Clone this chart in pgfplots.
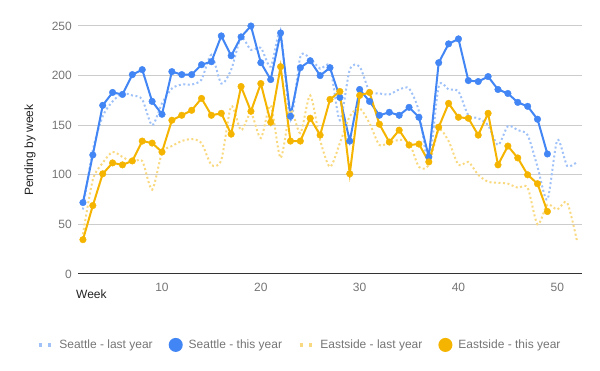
\documentclass[border=0pt]{standalone}
\usepackage{fontspec}
\setmainfont{Liberation Sans}
\usepackage{pgfplots}
\pgfplotsset{compat=1.18}
\definecolor{gblue}{HTML}{4285F4}
\definecolor{gorange}{HTML}{F4B400}
\definecolor{gblueL}{HTML}{A0C2F9}
\definecolor{gorangeL}{HTML}{F9D97F}
\definecolor{gridc}{HTML}{CCCCCC}
\definecolor{tickc}{HTML}{757575}
\definecolor{titlec}{HTML}{222222}
\begin{document}
\begin{tikzpicture}
\useasboundingbox (0,0) rectangle (600bp,371bp);
\begin{axis}[
  at={(78bp,97bp)}, anchor=south west,
  scale only axis, width=504bp, height=248bp,
  xmin=1.5, xmax=52.5, ymin=0, ymax=250,
  clip=false,
  axis line style={draw=none},
  xtick={10,20,30,40,50},
  ytick={0,50,100,150,200,250},
  major tick length=0pt,
  ymajorgrids, grid style={gridc, line width=1bp},
  /pgf/number format/assume math mode=true,
  tick label style={font=\fontsize{12bp}{14bp}\selectfont, text=tickc},
  xticklabel style={inner sep=0pt, yshift=-9bp},
  yticklabel style={inner sep=0pt, xshift=-6bp},
  xlabel={Week},
  xlabel style={at={(axis description cs:0,0)}, anchor=west, inner sep=0pt, yshift=-20bp, xshift=-2bp, font=\fontsize{12bp}{14bp}\selectfont, text=titlec},
  ylabel={Pending by week},
  ylabel style={at={(axis description cs:-0.0952,0.5)}, anchor=center, font=\fontsize{12bp}{14bp}\selectfont, text=titlec},
  legend columns=4,
  legend style={at={(0.44,-0.286)}, anchor=center, draw=none, fill=none,
    font=\fontsize{12bp}{14bp}\selectfont, text=tickc,
    /tikz/every odd column/.append style={column sep=4bp},
    /tikz/every even column/.append style={column sep=14bp},
    inner sep=0pt},
  legend cell align=left,
]
\addplot[draw=black!80, line width=1bp, forget plot] coordinates {(1.5,0) (52.5,0)};

\addplot[gblueL, line width=2bp, dash pattern=on 2bp off 2.5bp, smooth, tension=0.45,
  legend image code/.code={\draw[gblueL, line width=3.3bp, dash pattern=on 3.3bp off 6bp] (0bp,0bp) -- (13bp,0bp);}]
coordinates {
(2,65)(3,125)(4,159)(5,174)(6,182)(7,180)(8,176)(9,150)(10,172)(11,187)(12,191)(13,191)(14,196)(15,221)(16,192)(17,206)(18,238)(19,226)(20,228)(21,209)(22,243)(23,155)(24,219)(25,217)(26,207)(27,209)(28,155)(29,206)(30,209)(31,184)(32,182)(33,181)(34,186)(35,187)(36,164)(37,112)(38,189)(39,186)(40,184)(41,160)(42,157)(43,150)(44,130)(45,149)(46,145)(47,140)(48,108)(49,75)(50,135)(51,109)(52,113)
};
\addlegendentry{Seattle - last year}

\addplot[gblue, line width=2bp, mark=*, mark size=3.3bp, mark options={fill=gblue, draw=gblue, line width=0.4bp},
  legend image code/.code={\fill[gblue] (6bp,0bp) circle (6bp);}]
coordinates {
(2,72)(3,120)(4,170)(5,183)(6,181)(7,201)(8,206)(9,174)(10,161)(11,204)(12,201)(13,201)(14,211)(15,214)(16,240)(17,220)(18,239)(19,250)(20,213)(21,196)(22,243)(23,159)(24,208)(25,215)(26,200)(27,208)(28,178)(29,134)(30,186)(31,174)(32,160)(33,163)(34,160)(35,168)(36,158)(37,118)(38,213)(39,232)(40,237)(41,195)(42,194)(43,199)(44,186)(45,182)(46,173)(47,169)(48,156)(49,121)
};
\addlegendentry{Seattle - this year}

\addplot[gorangeL, line width=2bp, dash pattern=on 2bp off 2.5bp, smooth, tension=0.45,
  legend image code/.code={\draw[gorangeL, line width=3.3bp, dash pattern=on 3.3bp off 6bp] (0bp,0bp) -- (13bp,0bp);}]
coordinates {
(2,40)(3,95)(4,112)(5,123)(6,118)(7,113)(8,114)(9,85)(10,122)(11,129)(12,134)(13,136)(14,132)(15,110)(16,115)(17,169)(18,145)(19,162)(20,137)(21,170)(22,117)(23,165)(24,142)(25,180)(26,135)(27,108)(28,132)(29,159)(30,167)(31,152)(32,130)(33,133)(34,135)(35,133)(36,108)(37,110)(38,145)(39,134)(40,110)(41,113)(42,100)(43,93)(44,92)(45,91)(46,87)(47,87)(48,50)(49,70)(50,65)(51,72)(52,33)
};
\addlegendentry{Eastside - last year}

\addplot[gorange, line width=2bp, mark=*, mark size=3.3bp, mark options={fill=gorange, draw=gorange, line width=0.4bp},
  legend image code/.code={\fill[gorange] (6bp,0bp) circle (6bp);}]
coordinates {
(2,34.6)(3,69)(4,101)(5,112)(6,110)(7,114)(8,134)(9,132)(10,123)(11,155)(12,160)(13,165)(14,177)(15,160)(16,162)(17,141)(18,189)(19,164)(20,192)(21,153)(22,209)(23,134)(24,134)(25,157)(26,140)(27,176)(28,184)(29,101)(30,180)(31,183)(32,151)(33,133)(34,145)(35,130)(36,131)(37,113)(38,148)(39,172)(40,158)(41,157)(42,140)(43,162)(44,110)(45,129)(46,117)(47,100)(48,91)(49,63)
};
\addlegendentry{Eastside - this year}
\end{axis}
\end{tikzpicture}
\end{document}
